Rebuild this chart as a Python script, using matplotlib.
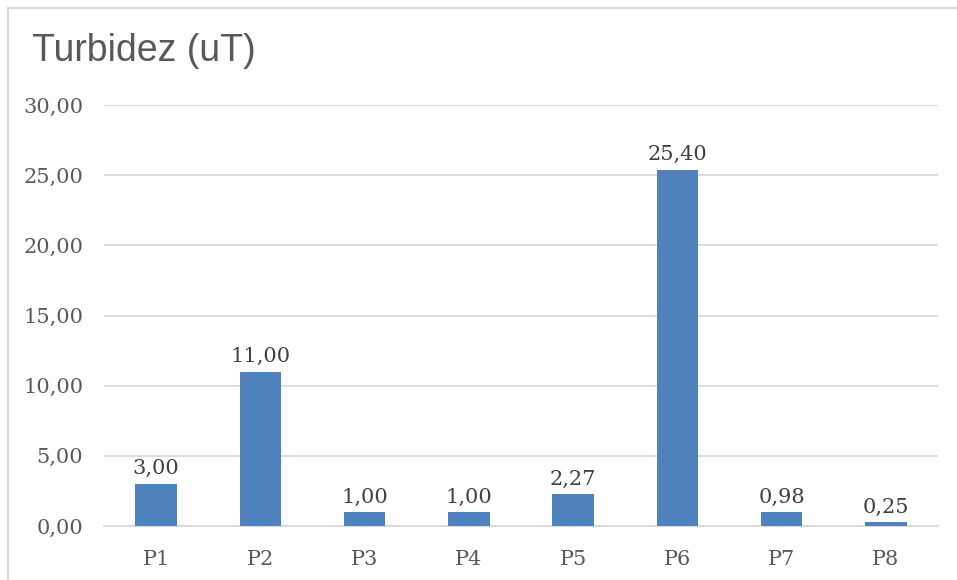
import matplotlib.pyplot as plt
from matplotlib.lines import Line2D

puntos = ["P1", "P2", "P3", "P4", "P5", "P6", "P7", "P8"]
turbidez = [3.00, 11.00, 1.00, 1.00, 2.27, 25.40, 0.98, 0.25]
ticks_y = [0, 5, 10, 15, 20, 25, 30]

gris_grid = "#d9d9d9"
gris_texto = "#595959"

fig = plt.figure(figsize=(9.57, 5.8), dpi=100)
ax = fig.add_axes([104 / 957, 54 / 580, 834 / 957, 421 / 580])

x = range(len(puntos))
barras = ax.bar(x, turbidez, width=0.4, color="#4f81bd", zorder=3)

for b, v in zip(barras, turbidez):
    ax.annotate(f"{v:.2f}".replace(".", ","),
                (b.get_x() + b.get_width() / 2, v),
                xytext=(0, 4), textcoords="offset points",
                ha="center", va="bottom", family="DejaVu Serif",
                fontsize=15, color="#404040")

ax.set_xlim(-0.5, len(puntos) - 0.5)
ax.set_ylim(0, 30)
ax.set_yticks(ticks_y)
ax.set_yticklabels([f"{t:.2f}".replace(".", ",") for t in ticks_y])
ax.set_xticks(list(x))
ax.set_xticklabels(puntos)
ax.grid(axis="y", color=gris_grid, linewidth=1.3, zorder=0)
ax.tick_params(length=0, labelsize=15, labelcolor=gris_texto)
ax.tick_params(axis="y", pad=15)
ax.tick_params(axis="x", pad=17)
for lbl in ax.get_xticklabels() + ax.get_yticklabels():
    lbl.set_family("DejaVu Serif")
for s in ["top", "right", "left"]:
    ax.spines[s].set_visible(False)
ax.spines["bottom"].set_color(gris_grid)
ax.spines["bottom"].set_linewidth(1.3)

# marco del gráfico (arriba e izquierda)
fig.add_artist(Line2D([8 / 957, 1], [1 - 8 / 580] * 2, color=gris_grid, lw=1.5))
fig.add_artist(Line2D([8 / 957] * 2, [0, 1 - 8 / 580], color=gris_grid, lw=1.5))

fig.text(32 / 957, 1 - 51 / 580, "Turbidez (uT)", family="Liberation Sans",
         fontsize=27, color=gris_texto, va="center", ha="left")

fig.savefig("out.png", dpi=100)
